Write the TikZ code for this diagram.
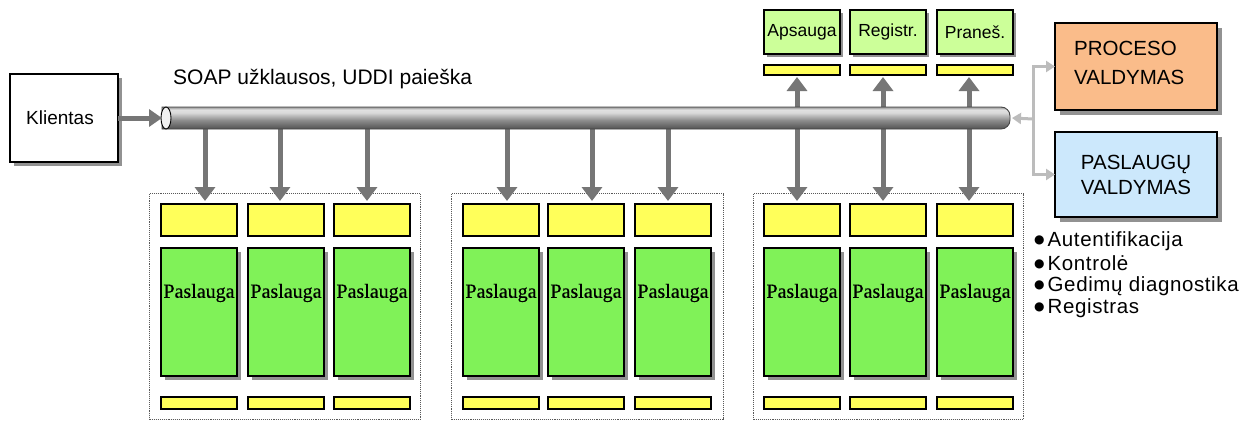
\documentclass[tikz,border=0pt]{standalone}
\usepackage{fontspec}
\setmainfont{Liberation Sans}
\newfontfamily\serifp[FakeBold=0.4]{Liberation Serif}
\newfontfamily\dejavu{DejaVu Sans}
\usetikzlibrary{arrows.meta,shadows}
\definecolor{grn}{RGB}{128,242,88}
\definecolor{lgrn}{RGB}{204,255,153}
\definecolor{yel}{RGB}{255,255,90}
\definecolor{org}{RGB}{250,188,138}
\definecolor{lblue}{RGB}{204,232,252}
\definecolor{arrgray}{RGB}{118,118,118}
\definecolor{lgray}{RGB}{188,188,188}
\pgfdeclareverticalshading{busshade}{100bp}{color(0bp)=(black!68); color(25bp)=(black!68); color(45bp)=(black!45); color(62bp)=(black!15); color(69bp)=(black!12); color(75bp)=(black!42); color(100bp)=(black!42)}
\newcommand\bul{\raisebox{3pt}{\dejavu\fontsize{12}{12}\selectfont ●}}
\begin{document}
\begin{tikzpicture}[x=1pt,y=-1pt,
  box/.style={draw=black, line width=1.3pt, anchor=north west, inner sep=0pt, outer sep=0pt},
  sh/.style={drop shadow={shadow xshift=4pt, shadow yshift=-4pt, fill=gray, opacity=0.85}},
  frame/.style={draw=gray!70!black, densely dotted, line width=1.1pt, anchor=north west, inner sep=0pt, minimum height=226pt},
  arr/.style={draw=arrgray, line width=5pt, -{Triangle[width=20pt,length=14pt]}},
  darr/.style={draw=arrgray, line width=5pt, {Triangle[width=20pt,length=14pt]}-{Triangle[width=20pt,length=14pt]}},
  lgarr/.style={draw=lgray, line width=3pt, -{Triangle[width=11pt,length=9pt]}},
  sans/.style={font=\fontsize{19}{22}\selectfont},
  pas/.style={font=\serifp\fontsize{20}{22}\selectfont, inner sep=0pt},
  lst/.style={anchor=west, inner sep=0pt, font=\fontsize{20.5}{22}\selectfont\addfontfeatures{LetterSpace=3}},
]
\fill[white] (0,0) rectangle (1253,423);
\path[use as bounding box] (0,0) rectangle (1253,423);

% dotted group frames
\node[frame, minimum width=271pt] (f1) at (149,193) {};
\node[frame, minimum width=272pt] (f2) at (451,193) {};
\node[frame, minimum width=270pt] (f3) at (753,193) {};

% service columns
\foreach \n/\x in {11/161,12/248,13/334,21/463,22/548,23/635,31/764,32/850,33/937}{
  \node[box, fill=yel, minimum width=76pt, minimum height=32pt] (yt\n) at (\x,204) {};
  \node[box, fill=grn, sh, minimum width=76pt, minimum height=128pt] (g\n) at (\x,248) {};
  \node[pas] (p\n) at ([yshift=-45pt]g\n.north) {Paslauga};
  \node[box, fill=yel, minimum width=76pt, minimum height=12pt] (yb\n) at (\x,397) {};
}

% top service boxes
\foreach \n/\x/\t in {1/764/Apsauga,2/850/Registr.,3/937/Praneš.}{
  \node[box, fill=lgrn, drop shadow={shadow xshift=3pt, shadow yshift=-3pt, fill=gray, opacity=0.85},
        minimum width=76pt, minimum height=44pt, font=\fontsize{17.5}{20}\selectfont] (t\n) at (\x,10) {\t};
  \node[box, fill=yel, minimum width=76pt, minimum height=10pt] (tb\n) at (\x,65) {};
}

% bus geometry
\node[anchor=north west, inner sep=0pt, outer sep=0pt, minimum width=848pt, minimum height=22pt] (bus) at (162,107) {};

% arrows from the bus (behind it)
\foreach \n/\o in {11/6,12/-6,13/-5,21/6,22/6,23/-5}{
  \draw[arr, shorten >=3pt] ([xshift=\o pt]bus.center -| yt\n.north) -- ([xshift=\o pt]yt\n.north);
}
\foreach \n/\o in {1/-5,2/-5,3/-6}{
  \draw[darr, shorten >=3pt, shorten <=2pt] ([xshift=\o pt]tb\n.south) -- ([xshift=\o pt]yt3\n.north);
}

% the bus itself
\shade[shading=busshade, draw=gray!55!black, line width=0.9pt]
  (bus.south west) -- (bus.north west) [rounded corners=9pt] -- (bus.north east) -- (bus.south east) [sharp corners] -- cycle;
\draw[fill=gray!12, line width=0.9pt] ([xshift=4pt]bus.west) ellipse (5 and 11);

% client
\node[box, fill=white, sh, minimum width=108pt, minimum height=88pt, sans] (kl) at (10,74) {\hspace{-8pt}Klientas};
\draw[arr, line width=5pt, -{Triangle[width=17pt,length=13pt]}] (kl.east) -- (bus.west);

\node[anchor=west, inner sep=0pt, font=\fontsize{21}{24}\selectfont] (soap) at (173,79) {SOAP užklausos, UDDI paieška};

% management boxes
\node[box, fill=org, drop shadow={shadow xshift=5pt, shadow yshift=-5pt, fill=gray, opacity=0.85},
      minimum width=162pt, minimum height=87pt] (proc) at (1055,23) {};
\node[anchor=west, align=left, inner sep=0pt, font=\fontsize{20.5}{29}\selectfont] (proct) at (1074,63) {PROCESO\\VALDYMAS};
\node[box, fill=lblue, drop shadow={shadow xshift=5pt, shadow yshift=-5pt, fill=gray, opacity=0.85},
      minimum width=162pt, minimum height=85pt, align=center, font=\fontsize{20.5}{25}\selectfont] (pasl) at (1055,132) {PASLAUGŲ\\VALDYMAS};

\coordinate (j) at (1033,119);
\draw[lgarr] (j) -- ([xshift=2pt]bus.east);
\draw[lgarr] (j) |- (proc.west);
\draw[lgarr] (j) |- (pasl.west);

% bullet list
\node[lst] (b1) at (1034,241) {\bul\hspace{3pt}Autentifikacija};
\node[lst] (b2) at (1034,263) {\bul\hspace{3pt}Kontrolė};
\node[lst] (b3) at (1034,286) {\bul\hspace{3pt}Gedimų diagnostika};
\node[lst] (b4) at (1034,308) {\bul\hspace{3pt}Registras};
\end{tikzpicture}
\end{document}
